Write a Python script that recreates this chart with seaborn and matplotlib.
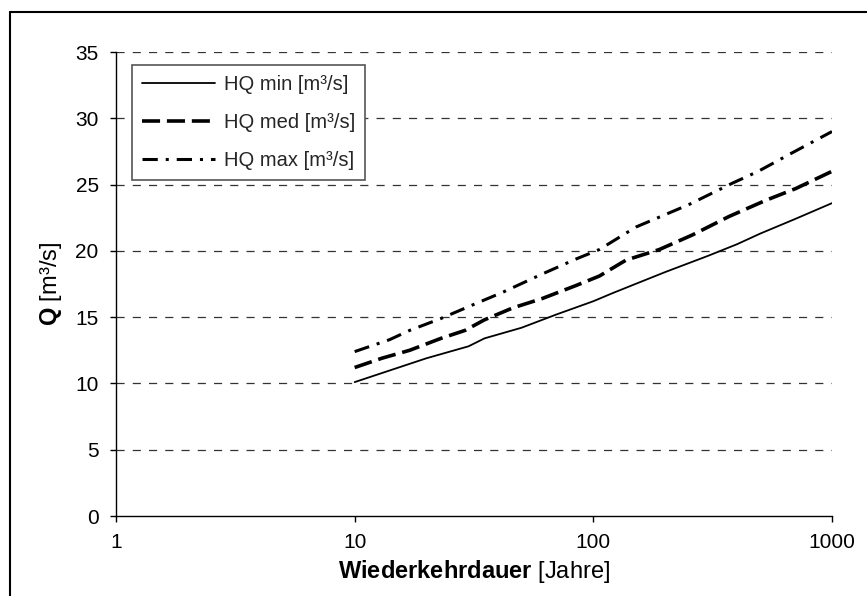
import matplotlib
matplotlib.use("Agg")
import matplotlib.pyplot as plt
import seaborn as sns
import pandas as pd
from matplotlib.lines import Line2D

sns.set_theme(style="white")
plt.rcParams['font.family'] = ['Liberation Sans', 'DejaVu Sans']
plt.rcParams['mathtext.fontset'] = 'custom'
plt.rcParams['mathtext.rm'] = 'Liberation Sans'
plt.rcParams['mathtext.bf'] = 'Liberation Sans:bold'

years_min = [10, 20, 30, 35, 50, 70, 100, 120, 150, 200, 300, 400, 500, 700, 1000]
hq_min = [10.1, 11.9, 12.8, 13.4, 14.2, 15.2, 16.2, 16.8, 17.5, 18.4, 19.6, 20.5, 21.3, 22.4, 23.6]

years_med = [10, 13, 17, 23, 29, 35, 46, 61, 85, 106, 137, 189, 260, 371, 526, 705, 1000]
hq_med = [11.2, 11.9, 12.5, 13.4, 14.0, 14.8, 15.7, 16.4, 17.4, 18.1, 19.3, 20.1, 21.2, 22.6, 23.8, 24.7, 26.0]

years_max = [10, 14, 17, 23, 31, 42, 61, 85, 106, 151, 252, 382, 491, 682, 1000]
hq_max = [12.4, 13.3, 14.0, 14.9, 15.9, 16.9, 18.25, 19.4, 20.1, 21.8, 23.5, 25.1, 26.0, 27.4, 29.0]

labels = ["HQ min [m³/s]", "HQ med [m³/s]", "HQ max [m³/s]"]
x_ticks = [1, 10, 100, 1000]
y_ticks = [0, 5, 10, 15, 20, 25, 30, 35]

df = pd.concat([
    pd.DataFrame({"x": years_min, "y": hq_min, "s": labels[0]}),
    pd.DataFrame({"x": years_med, "y": hq_med, "s": labels[1]}),
    pd.DataFrame({"x": years_max, "y": hq_max, "s": labels[2]}),
])

fig = plt.figure(figsize=(8.67, 5.96), dpi=100)
ax = fig.add_axes([116/867, 1-516/596, (832-116)/867, (516-52)/596])

styles = {
    labels[0]: dict(ls='-', lw=1.3),
    labels[1]: dict(ls=(0, (5, 1.9)), lw=2.6),
    labels[2]: dict(ls=(0, (5.0, 2.6, 1.0, 2.6)), lw=2.2),
}
for lab in labels:
    sub = df[df.s == lab]
    sns.lineplot(data=sub, x="x", y="y", ax=ax, color="black", label=lab,
                 estimator=None, sort=False, **styles[lab])

ax.set_xscale('log')
ax.set_xlim(1, 1000)
ax.set_ylim(0, 35)
ax.set_xticks(x_ticks)
ax.set_xticklabels([str(v) for v in x_ticks])
ax.xaxis.set_minor_locator(matplotlib.ticker.NullLocator())
ax.set_yticks(y_ticks)
ax.tick_params(axis='both', labelsize=15, colors='black', length=4.5, width=1,
               direction='out', left=True, bottom=True)
ax.tick_params(axis='y', pad=8)
ax.tick_params(axis='x', pad=8)
for y in y_ticks[1:]:
    ax.axhline(y, color='#333333', lw=0.9, ls=(0, (6.5, 6.5)), zorder=0)

for s in ['top', 'right']:
    ax.spines[s].set_visible(False)
for s in ['left', 'bottom']:
    ax.spines[s].set_color('black')
    ax.spines[s].set_linewidth(1.0)

ax.set_xlabel(r"$\mathbf{Wiederkehrdauer}$ [Jahre]", fontsize=17, color='black', labelpad=4)
ax.set_ylabel(r"$\mathbf{Q}$ [m³/s]", fontsize=17, color='black', labelpad=8)

handles = [Line2D([], [], color='black', **styles[l]) for l in labels]
leg = ax.legend(handles, labels, loc='upper left', bbox_to_anchor=(0.0223, 0.972),
                borderaxespad=0, fontsize=14.5, frameon=True, fancybox=False,
                edgecolor='#555555', framealpha=1, handlelength=3.6, borderpad=0.5,
                labelspacing=0.95, handletextpad=0.45)
leg.get_frame().set_linewidth(1.2)

fig.add_artist(Line2D([10/867, 10/867], [0, 1-12/596], color='black', lw=1.5, transform=fig.transFigure))
fig.add_artist(Line2D([10/867, 1], [1-12/596, 1-12/596], color='black', lw=1.5, transform=fig.transFigure))

fig.savefig("out.png", dpi=100)
